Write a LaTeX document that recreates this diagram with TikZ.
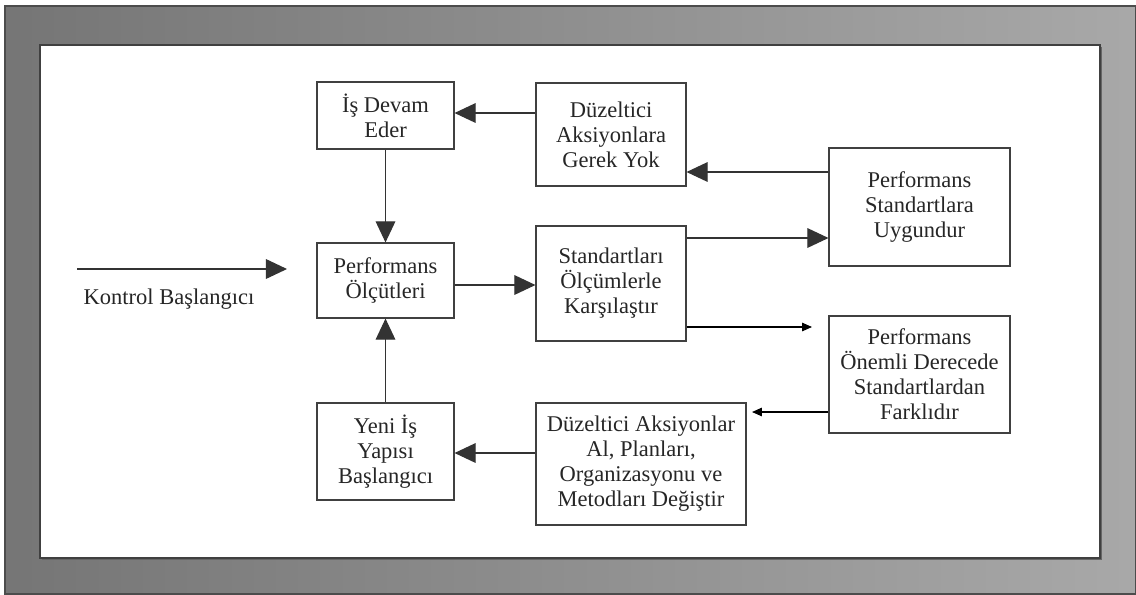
\documentclass[tikz,border=0pt]{standalone}
\usepackage{fontspec}
\setmainfont{Liberation Serif}
\usetikzlibrary{arrows.meta}
\begin{document}
\begin{tikzpicture}[x=0.025cm,y=-0.025cm,
  box/.style={draw=black!75,line width=0.8pt,fill=white,align=center,inner sep=0pt,
    font=\fontsize{16}{17.8}\selectfont,text=black!85},
  big/.style={-{Triangle[length=15pt,width=14pt]},line width=0.8pt,black!80},
  small/.style={-{Triangle[length=7pt,width=6pt]},line width=0.8pt,black}]
\useasboundingbox (0,0) rectangle (1136,594);
\fill[white] (0,0) rectangle (1136,594);
\shade[left color=black!54,right color=black!34,draw=black!70,line width=0.8pt] (5,6) rectangle (1136,594);
\fill[black!60] (42,47) rectangle (1102,560);
\draw[fill=white,draw=black!75,line width=0.8pt] (40,45) rectangle (1100,558);
% nodes
\node[box,minimum width=137*0.025cm,minimum height=67*0.025cm] (ide) at (385.5,115.5) {İş Devam\\Eder};
\node[box,minimum width=150*0.025cm,minimum height=103*0.025cm] (dag) at (611,134.5) {Düzeltici\\Aksiyonlara\\Gerek Yok};
\node[box,minimum width=181*0.025cm,minimum height=118*0.025cm] (psu) at (919.5,207) {Performans\\Standartlara\\Uygundur};
\node[box,minimum width=137*0.025cm,minimum height=75*0.025cm] (po) at (385.5,280.5) {Performans\\Ölçütleri};
\node[box,minimum width=150*0.025cm,minimum height=115*0.025cm] (sok) at (611,283.5) {Standartları\\Ölçümlerle\\Karşılaştır};
\node[box,minimum width=181*0.025cm,minimum height=117*0.025cm] (pof) at (919.5,374.5) {Performans\\Önemli Derecede\\Standartlardan\\Farklıdır};
\node[box,minimum width=137*0.025cm,minimum height=97*0.025cm] (yib) at (385.5,451.5) {Yeni İş\\Yapısı\\Başlangıcı};
\node[box,minimum width=210*0.025cm,minimum height=122*0.025cm] (dal) at (641,464) {Düzeltici Aksiyonlar\\Al, Planları,\\Organizasyonu ve\\Metodları Değiştir};
\coordinate (ks) at (77,269);
\coordinate (ke) at (287,269);
\node[font=\fontsize{16}{17.8}\selectfont,text=black!85] (kl) at (169,299) {Kontrol Başlangıcı};
\coordinate (fe) at (812,327);
\coordinate (ae) at (752,412);
% connectors
\draw[big] (ks) -- (ke);
\draw[big] (dag.west |- 0,113) -- (ide.east |- 0,113);
\draw[big] (psu.west |- 0,172) -- (dag.east |- 0,172);
\draw[big] (ide.south) -- (po.north);
\draw[big] (po.east |- 0,285) -- (sok.west |- 0,285);
\draw[big] (sok.east |- 0,238) -- (psu.west |- 0,238);
\draw[small] (sok.east |- 0,327) -- (fe);
\draw[small] (pof.west |- 0,412) -- (ae);
\draw[big] (dal.west |- 0,453) -- (yib.east |- 0,453);
\draw[big] (yib.north) -- (po.south);
\end{tikzpicture}
\end{document}
